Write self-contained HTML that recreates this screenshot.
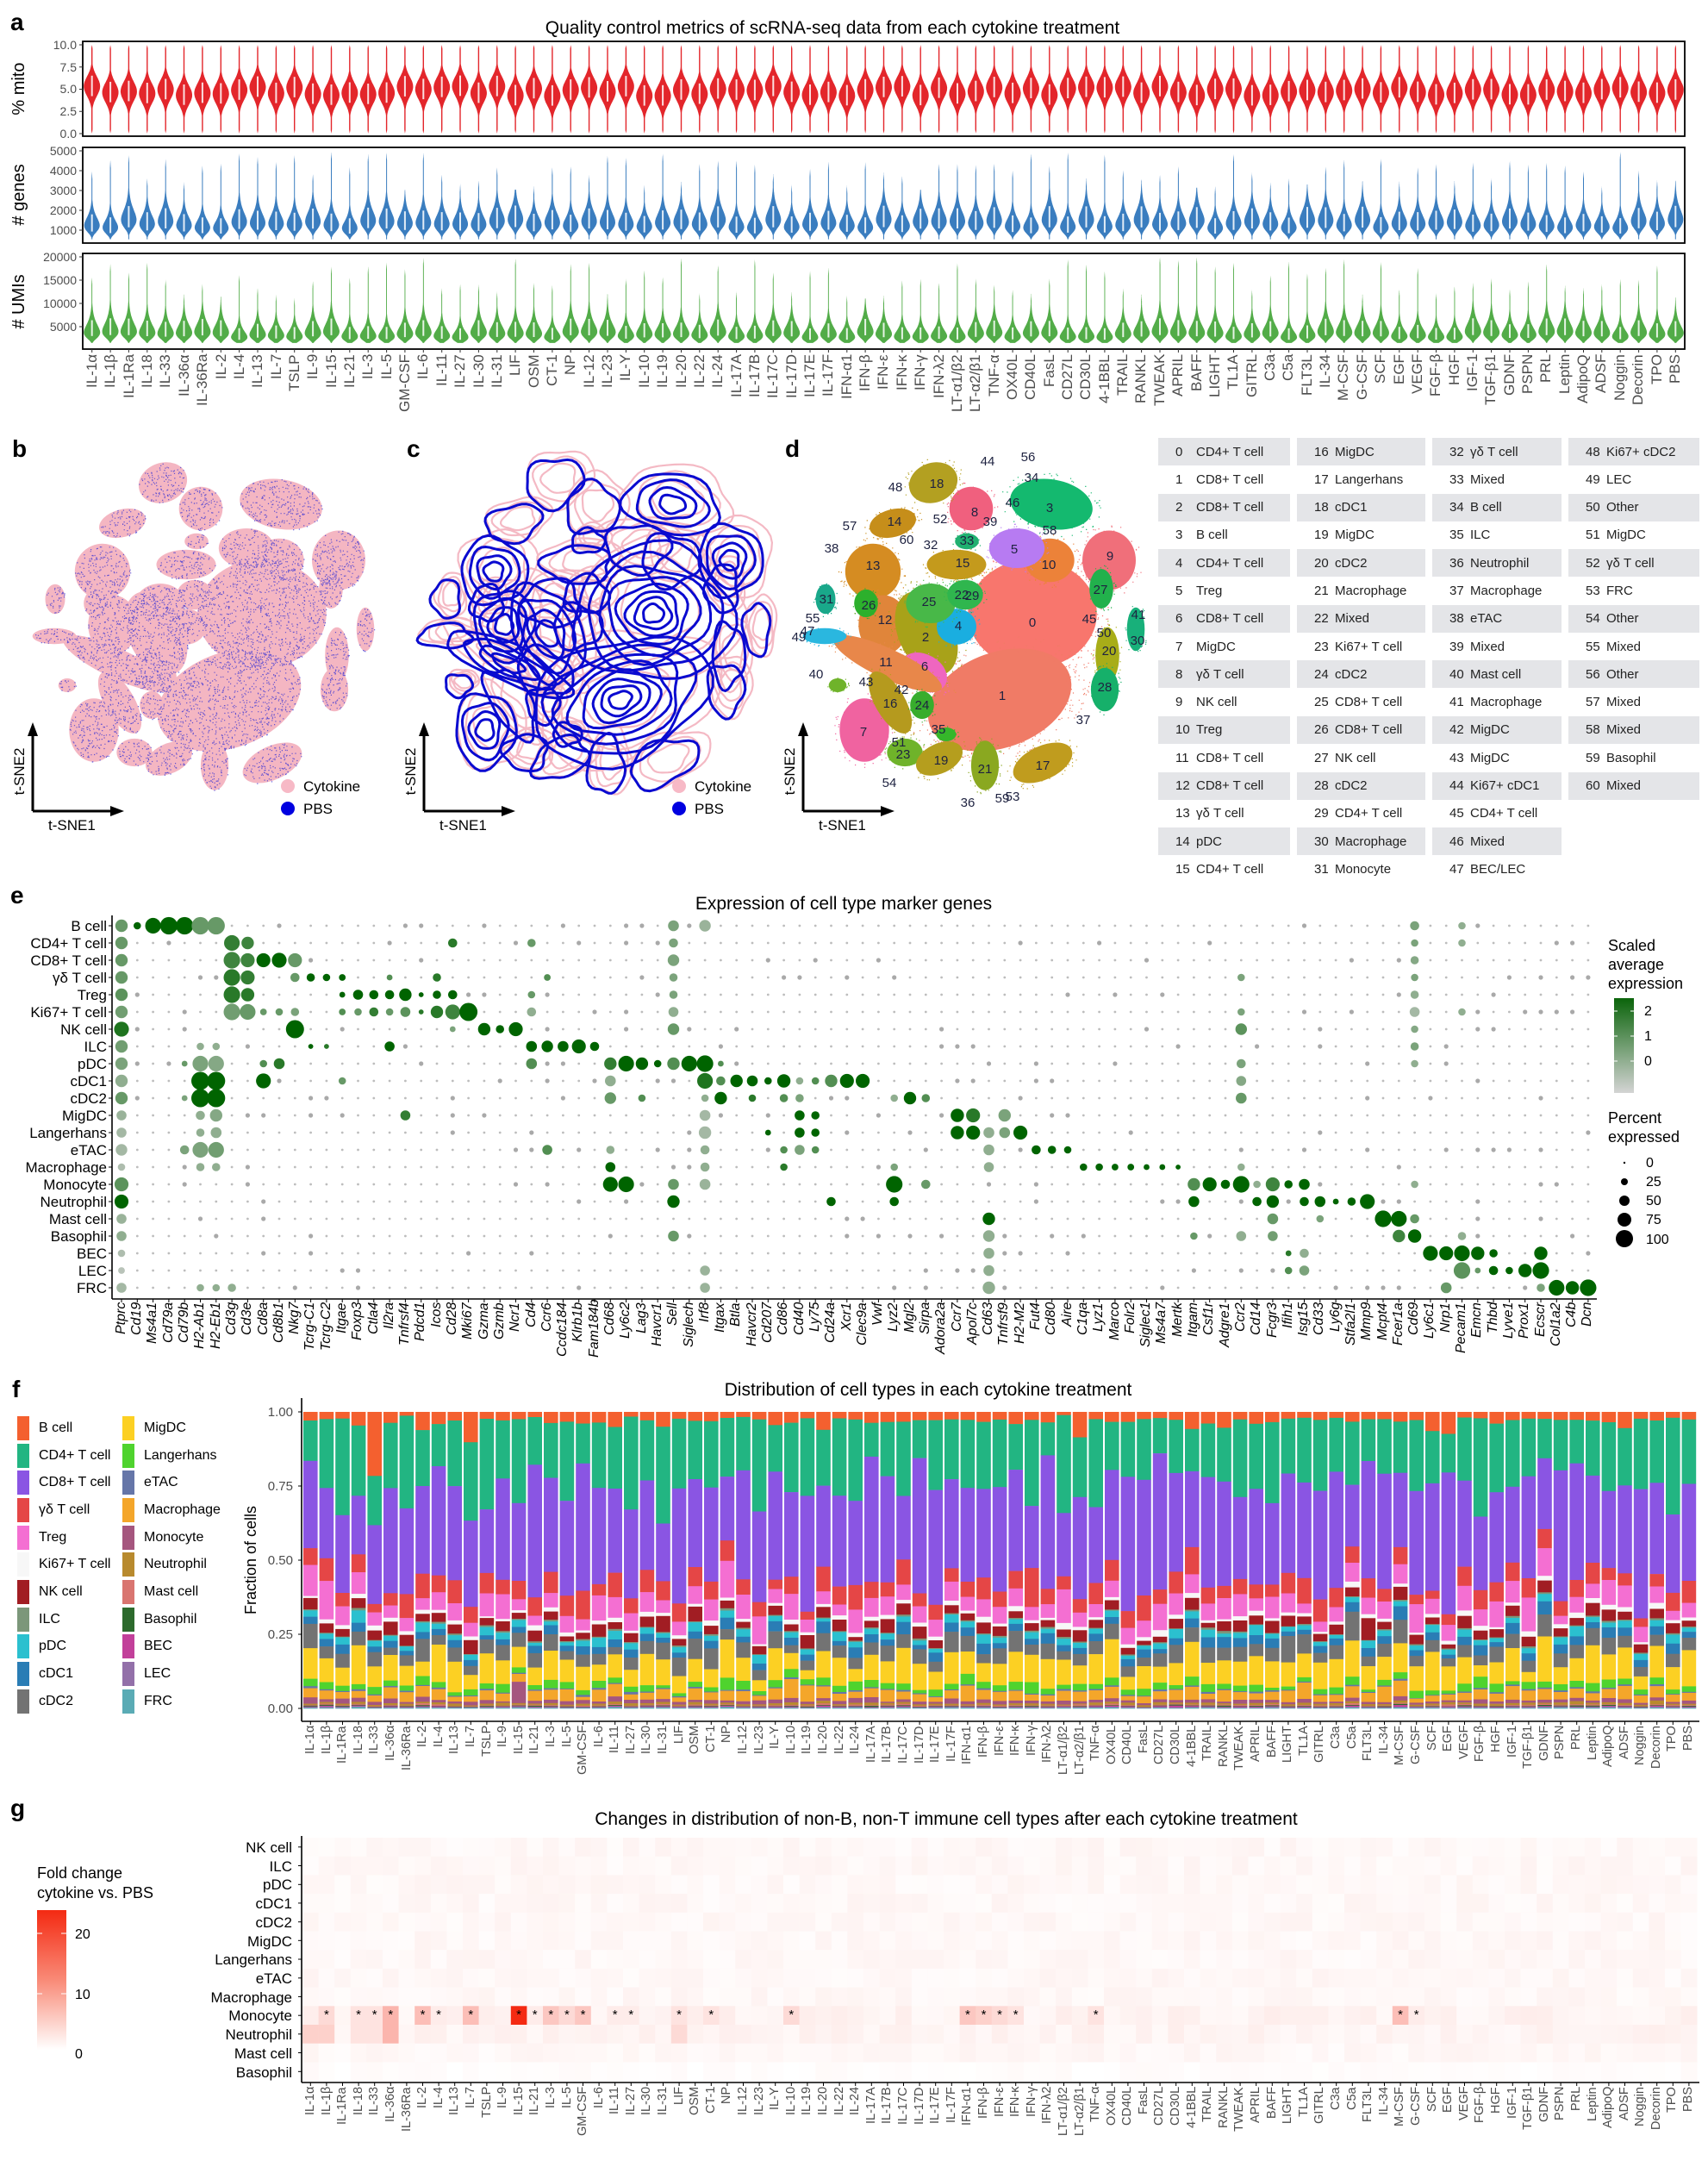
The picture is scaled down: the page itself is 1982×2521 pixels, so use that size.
<!DOCTYPE html>
<html><head><meta charset="utf-8">
<style>
body{margin:0;width:1982px;height:2521px;position:relative;background:#fff;overflow:hidden;font-family:"Liberation Sans","DejaVu Sans",sans-serif;color:#000}
svg{position:absolute;left:0;top:0}
.xl{position:absolute;display:flex;white-space:nowrap;color:#4d4d4d}
.xl span{flex:0 0 auto;writing-mode:vertical-rl;transform:rotate(180deg);text-align:end;overflow:visible}
.xa span{width:21.37px;line-height:21.37px;height:85px;font-size:17px}
.xf span{width:18.6px;line-height:18.6px;height:82px;font-size:14.5px}
.xe{color:#000}
.xe span{width:18.3px;line-height:18.3px;height:64px;font-size:16px;font-style:italic}
.tab{position:absolute;left:1344px;top:508px;display:grid;grid-template-columns:153px 149px 150px 152px;grid-template-rows:repeat(16,32.3px);grid-auto-flow:column;column-gap:8px;font-size:15px;color:#222}
.tab div{display:flex;align-items:center;height:32px}
.tab div:nth-child(odd){background:#e4e5e8}
.tab b{font-weight:normal;width:24px;padding-left:20px;flex:0 0 auto}
.leg{position:absolute;left:20px;top:1641px;display:grid;grid-template-columns:122px 130px;grid-template-rows:repeat(11,31.7px);grid-auto-flow:column;font-size:16px}
.leg div{display:flex;align-items:center}
.leg i{display:inline-block;width:14px;height:28px;margin-right:11px}
.pl{position:absolute;font-weight:bold;font-size:28px}
</style></head><body>
<svg id="G" width="1982" height="2521" xmlns="http://www.w3.org/2000/svg" font-family="Liberation Sans, DejaVu Sans, sans-serif">
<g id="shapes"></g>
<g font-size="21" text-anchor="middle">
<text x="966" y="39">Quality control metrics of scRNA-seq data from each cytokine treatment</text>
<text x="979" y="1055">Expression of cell type marker genes</text>
<text x="1077" y="1619">Distribution of cell types in each cytokine treatment</text>
<text x="1098" y="2117">Changes in distribution of non-B, non-T immune cell types after each cytokine treatment</text>
</g>
<g font-size="14" fill="#4d4d4d" text-anchor="end">
<text x="89" y="57">10.0</text><text x="89" y="83">7.5</text><text x="89" y="108">5.0</text><text x="89" y="134">2.5</text><text x="89" y="160">0.0</text>
<text x="89" y="180">5000</text><text x="89" y="203">4000</text><text x="89" y="226">3000</text><text x="89" y="249">2000</text><text x="89" y="272">1000</text>
<text x="89" y="303">20000</text><text x="89" y="330">15000</text><text x="89" y="357">10000</text><text x="89" y="384">5000</text>
</g>
<g font-size="20" text-anchor="middle">
<text transform="translate(28,103) rotate(-90)">% mito</text>
<text transform="translate(28,226) rotate(-90)"># genes</text>
<text transform="translate(28,350) rotate(-90)"># UMIs</text>
<text transform="translate(297,1810) rotate(-90)" font-size="18">Fraction of cells</text>
</g>
<g font-size="15" fill="#4d4d4d" text-anchor="end">
<text x="340" y="1643">1.00</text><text x="340" y="1729">0.75</text><text x="340" y="1815">0.50</text><text x="340" y="1901">0.25</text><text x="340" y="1987">0.00</text>
</g>
<g font-size="17" text-anchor="end">
<text x="124" y="1080">B cell</text><text x="124" y="1100">CD4+ T cell</text><text x="124" y="1120">CD8+ T cell</text><text x="124" y="1140">γδ T cell</text><text x="124" y="1160">Treg</text><text x="124" y="1180">Ki67+ T cell</text><text x="124" y="1200">NK cell</text><text x="124" y="1220">ILC</text><text x="124" y="1240">pDC</text><text x="124" y="1260">cDC1</text><text x="124" y="1280">cDC2</text><text x="124" y="1300">MigDC</text><text x="124" y="1320">Langerhans</text><text x="124" y="1340">eTAC</text><text x="124" y="1360">Macrophage</text><text x="124" y="1380">Monocyte</text><text x="124" y="1400">Neutrophil</text><text x="124" y="1420">Mast cell</text><text x="124" y="1440">Basophil</text><text x="124" y="1460">BEC</text><text x="124" y="1480">LEC</text><text x="124" y="1500">FRC</text>
</g>
<g font-size="17" text-anchor="end">
<text x="339" y="2149">NK cell</text><text x="339" y="2171">ILC</text><text x="339" y="2192">pDC</text><text x="339" y="2214">cDC1</text><text x="339" y="2236">cDC2</text><text x="339" y="2258">MigDC</text><text x="339" y="2279">Langerhans</text><text x="339" y="2301">eTAC</text><text x="339" y="2323">Macrophage</text><text x="339" y="2344">Monocyte</text><text x="339" y="2366">Neutrophil</text><text x="339" y="2388">Mast cell</text><text x="339" y="2410">Basophil</text>
</g>
<g font-size="18">
<text x="1866" y="1103">Scaled</text><text x="1866" y="1125">average</text><text x="1866" y="1147">expression</text>
<text x="1866" y="1303">Percent</text><text x="1866" y="1325">expressed</text>
<text x="43" y="2179">Fold change</text><text x="43" y="2202">cytokine vs. PBS</text>
</g>
<g font-size="16">
<text x="1908" y="1178">2</text><text x="1908" y="1207">1</text><text x="1908" y="1236">0</text>
<text x="1910" y="1354">0</text><text x="1910" y="1376">25</text><text x="1910" y="1398">50</text><text x="1910" y="1420">75</text><text x="1910" y="1443">100</text>
<text x="87" y="2249">20</text><text x="87" y="2319">10</text><text x="87" y="2388">0</text>
</g>
<g font-size="17">
<text x="352" y="918">Cytokine</text><text x="352" y="944">PBS</text>
<text x="806" y="918">Cytokine</text><text x="806" y="944">PBS</text>
<text x="56" y="963">t-SNE1</text><text x="510" y="963">t-SNE1</text><text x="950" y="963">t-SNE1</text>
<text transform="translate(28,895) rotate(-90)" text-anchor="middle">t-SNE2</text>
<text transform="translate(482,895) rotate(-90)" text-anchor="middle">t-SNE2</text>
<text transform="translate(922,895) rotate(-90)" text-anchor="middle">t-SNE2</text>
</g>
<g id="dl" font-size="15" fill="#1e2240" text-anchor="middle" dominant-baseline="middle">
<text x="1198" y="723">0</text><text x="1163" y="808">1</text><text x="1074" y="740">2</text><text x="1218" y="590">3</text><text x="1112" y="727">4</text><text x="1177" y="638">5</text><text x="1073" y="774">6</text><text x="1002" y="850">7</text><text x="1131" y="595">8</text><text x="1288" y="646">9</text><text x="1217" y="656">10</text><text x="1028" y="769">11</text><text x="1027" y="720">12</text><text x="1013" y="657">13</text><text x="1038" y="606">14</text><text x="1117" y="654">15</text><text x="1033" y="817">16</text><text x="1210" y="889">17</text><text x="1087" y="562">18</text><text x="1092" y="883">19</text><text x="1287" y="756">20</text><text x="1143" y="893">21</text><text x="1116" y="691">22</text><text x="1048" y="876">23</text><text x="1070" y="819">24</text><text x="1078" y="699">25</text><text x="1008" y="703">26</text><text x="1277" y="685">27</text><text x="1282" y="798">28</text><text x="1128" y="692">29</text><text x="1320" y="744">30</text><text x="959" y="696">31</text><text x="1080" y="633">32</text><text x="1122" y="628">33</text><text x="1197" y="555">34</text><text x="1089" y="847">35</text><text x="1123" y="932">36</text><text x="1257" y="836">37</text><text x="965" y="637">38</text><text x="1149" y="606">39</text><text x="947" y="783">40</text><text x="1321" y="714">41</text><text x="1046" y="801">42</text><text x="1005" y="792">43</text><text x="1146" y="536">44</text><text x="1264" y="719">45</text><text x="1175" y="584">46</text><text x="937" y="733">47</text><text x="1039" y="566">48</text><text x="927" y="740">49</text><text x="1281" y="735">50</text><text x="1043" y="862">51</text><text x="1091" y="603">52</text><text x="1175" y="925">53</text><text x="1032" y="909">54</text><text x="943" y="718">55</text><text x="1193" y="531">56</text><text x="986" y="611">57</text><text x="1218" y="616">58</text><text x="1163" y="927">59</text><text x="1052" y="627">60</text>
</g>
<g id="stars" font-size="15" text-anchor="middle"></g>
</svg>

<div class="pl" style="left:12px;top:10px">a</div>
<div class="pl" style="left:14px;top:505px">b</div>
<div class="pl" style="left:472px;top:505px">c</div>
<div class="pl" style="left:911px;top:505px">d</div>
<div class="pl" style="left:12px;top:1023px">e</div>
<div class="pl" style="left:14px;top:1596px">f</div>
<div class="pl" style="left:12px;top:2082px">g</div>

<div class="xl xa" style="left:96px;top:411px"><span>IL-1α</span><span>IL-1β</span><span>IL-1Ra</span><span>IL-18</span><span>IL-33</span><span>IL-36α</span><span>IL-36Ra</span><span>IL-2</span><span>IL-4</span><span>IL-13</span><span>IL-7</span><span>TSLP</span><span>IL-9</span><span>IL-15</span><span>IL-21</span><span>IL-3</span><span>IL-5</span><span>GM-CSF</span><span>IL-6</span><span>IL-11</span><span>IL-27</span><span>IL-30</span><span>IL-31</span><span>LIF</span><span>OSM</span><span>CT-1</span><span>NP</span><span>IL-12</span><span>IL-23</span><span>IL-Y</span><span>IL-10</span><span>IL-19</span><span>IL-20</span><span>IL-22</span><span>IL-24</span><span>IL-17A</span><span>IL-17B</span><span>IL-17C</span><span>IL-17D</span><span>IL-17E</span><span>IL-17F</span><span>IFN-α1</span><span>IFN-β</span><span>IFN-ε</span><span>IFN-κ</span><span>IFN-γ</span><span>IFN-λ2</span><span>LT-α1/β2</span><span>LT-α2/β1</span><span>TNF-α</span><span>OX40L</span><span>CD40L</span><span>FasL</span><span>CD27L</span><span>CD30L</span><span>4-1BBL</span><span>TRAIL</span><span>RANKL</span><span>TWEAK</span><span>APRIL</span><span>BAFF</span><span>LIGHT</span><span>TL1A</span><span>GITRL</span><span>C3a</span><span>C5a</span><span>FLT3L</span><span>IL-34</span><span>M-CSF</span><span>G-CSF</span><span>SCF</span><span>EGF</span><span>VEGF</span><span>FGF-β</span><span>HGF</span><span>IGF-1</span><span>TGF-β1</span><span>GDNF</span><span>PSPN</span><span>PRL</span><span>Leptin</span><span>AdipoQ</span><span>ADSF</span><span>Noggin</span><span>Decorin</span><span>TPO</span><span>PBS</span></div>

<div class="xl xf" style="left:351px;top:2002px"><span>IL-1α</span><span>IL-1β</span><span>IL-1Ra</span><span>IL-18</span><span>IL-33</span><span>IL-36α</span><span>IL-36Ra</span><span>IL-2</span><span>IL-4</span><span>IL-13</span><span>IL-7</span><span>TSLP</span><span>IL-9</span><span>IL-15</span><span>IL-21</span><span>IL-3</span><span>IL-5</span><span>GM-CSF</span><span>IL-6</span><span>IL-11</span><span>IL-27</span><span>IL-30</span><span>IL-31</span><span>LIF</span><span>OSM</span><span>CT-1</span><span>NP</span><span>IL-12</span><span>IL-23</span><span>IL-Y</span><span>IL-10</span><span>IL-19</span><span>IL-20</span><span>IL-22</span><span>IL-24</span><span>IL-17A</span><span>IL-17B</span><span>IL-17C</span><span>IL-17D</span><span>IL-17E</span><span>IL-17F</span><span>IFN-α1</span><span>IFN-β</span><span>IFN-ε</span><span>IFN-κ</span><span>IFN-γ</span><span>IFN-λ2</span><span>LT-α1/β2</span><span>LT-α2/β1</span><span>TNF-α</span><span>OX40L</span><span>CD40L</span><span>FasL</span><span>CD27L</span><span>CD30L</span><span>4-1BBL</span><span>TRAIL</span><span>RANKL</span><span>TWEAK</span><span>APRIL</span><span>BAFF</span><span>LIGHT</span><span>TL1A</span><span>GITRL</span><span>C3a</span><span>C5a</span><span>FLT3L</span><span>IL-34</span><span>M-CSF</span><span>G-CSF</span><span>SCF</span><span>EGF</span><span>VEGF</span><span>FGF-β</span><span>HGF</span><span>IGF-1</span><span>TGF-β1</span><span>GDNF</span><span>PSPN</span><span>PRL</span><span>Leptin</span><span>AdipoQ</span><span>ADSF</span><span>Noggin</span><span>Decorin</span><span>TPO</span><span>PBS</span></div>

<div class="xl xf" style="left:351px;top:2421px"><span>IL-1α</span><span>IL-1β</span><span>IL-1Ra</span><span>IL-18</span><span>IL-33</span><span>IL-36α</span><span>IL-36Ra</span><span>IL-2</span><span>IL-4</span><span>IL-13</span><span>IL-7</span><span>TSLP</span><span>IL-9</span><span>IL-15</span><span>IL-21</span><span>IL-3</span><span>IL-5</span><span>GM-CSF</span><span>IL-6</span><span>IL-11</span><span>IL-27</span><span>IL-30</span><span>IL-31</span><span>LIF</span><span>OSM</span><span>CT-1</span><span>NP</span><span>IL-12</span><span>IL-23</span><span>IL-Y</span><span>IL-10</span><span>IL-19</span><span>IL-20</span><span>IL-22</span><span>IL-24</span><span>IL-17A</span><span>IL-17B</span><span>IL-17C</span><span>IL-17D</span><span>IL-17E</span><span>IL-17F</span><span>IFN-α1</span><span>IFN-β</span><span>IFN-ε</span><span>IFN-κ</span><span>IFN-γ</span><span>IFN-λ2</span><span>LT-α1/β2</span><span>LT-α2/β1</span><span>TNF-α</span><span>OX40L</span><span>CD40L</span><span>FasL</span><span>CD27L</span><span>CD30L</span><span>4-1BBL</span><span>TRAIL</span><span>RANKL</span><span>TWEAK</span><span>APRIL</span><span>BAFF</span><span>LIGHT</span><span>TL1A</span><span>GITRL</span><span>C3a</span><span>C5a</span><span>FLT3L</span><span>IL-34</span><span>M-CSF</span><span>G-CSF</span><span>SCF</span><span>EGF</span><span>VEGF</span><span>FGF-β</span><span>HGF</span><span>IGF-1</span><span>TGF-β1</span><span>GDNF</span><span>PSPN</span><span>PRL</span><span>Leptin</span><span>AdipoQ</span><span>ADSF</span><span>Noggin</span><span>Decorin</span><span>TPO</span><span>PBS</span></div>

<div class="xl xe" style="left:131.85px;top:1511px"><span>Ptprc</span><span>Cd19</span><span>Ms4a1</span><span>Cd79a</span><span>Cd79b</span><span>H2-Ab1</span><span>H2-Eb1</span><span>Cd3g</span><span>Cd3e</span><span>Cd8a</span><span>Cd8b1</span><span>Nkg7</span><span>Tcrg-C1</span><span>Tcrg-C2</span><span>Itgae</span><span>Foxp3</span><span>Ctla4</span><span>Il2ra</span><span>Tnfrsf4</span><span>Pdcd1</span><span>Icos</span><span>Cd28</span><span>Mki67</span><span>Gzma</span><span>Gzmb</span><span>Ncr1</span><span>Cd4</span><span>Ccr6</span><span>Ccdc184</span><span>Klrb1b</span><span>Fam184b</span><span>Cd68</span><span>Ly6c2</span><span>Lag3</span><span>Havcr1</span><span>Sell</span><span>Siglech</span><span>Irf8</span><span>Itgax</span><span>Btla</span><span>Havcr2</span><span>Cd207</span><span>Cd86</span><span>Cd40</span><span>Ly75</span><span>Cd24a</span><span>Xcr1</span><span>Clec9a</span><span>Vwf</span><span>Lyz2</span><span>Mgl2</span><span>Sirpa</span><span>Adora2a</span><span>Ccr7</span><span>Apol7c</span><span>Cd63</span><span>Tnfrsf9</span><span>H2-M2</span><span>Fut4</span><span>Cd80</span><span>Aire</span><span>C1qa</span><span>Lyz1</span><span>Marco</span><span>Folr2</span><span>Siglec1</span><span>Ms4a7</span><span>Mertk</span><span>Itgam</span><span>Csf1r</span><span>Adgre1</span><span>Ccr2</span><span>Cd14</span><span>Fcgr3</span><span>Ifih1</span><span>Isg15</span><span>Cd33</span><span>Ly6g</span><span>Stfa2l1</span><span>Mmp9</span><span>Mcpt4</span><span>Fcer1a</span><span>Cd69</span><span>Ly6c1</span><span>Nrp1</span><span>Pecam1</span><span>Emcn</span><span>Thbd</span><span>Lyve1</span><span>Prox1</span><span>Ecscr</span><span>Col1a2</span><span>C4b</span><span>Dcn</span></div>

<div class="tab">
<div><b>0</b>CD4+ T cell</div><div><b>1</b>CD8+ T cell</div><div><b>2</b>CD8+ T cell</div><div><b>3</b>B cell</div><div><b>4</b>CD4+ T cell</div><div><b>5</b>Treg</div><div><b>6</b>CD8+ T cell</div><div><b>7</b>MigDC</div><div><b>8</b>γδ T cell</div><div><b>9</b>NK cell</div><div><b>10</b>Treg</div><div><b>11</b>CD8+ T cell</div><div><b>12</b>CD8+ T cell</div><div><b>13</b>γδ T cell</div><div><b>14</b>pDC</div><div><b>15</b>CD4+ T cell</div>
<div><b>16</b>MigDC</div><div><b>17</b>Langerhans</div><div><b>18</b>cDC1</div><div><b>19</b>MigDC</div><div><b>20</b>cDC2</div><div><b>21</b>Macrophage</div><div><b>22</b>Mixed</div><div><b>23</b>Ki67+ T cell</div><div><b>24</b>cDC2</div><div><b>25</b>CD8+ T cell</div><div><b>26</b>CD8+ T cell</div><div><b>27</b>NK cell</div><div><b>28</b>cDC2</div><div><b>29</b>CD4+ T cell</div><div><b>30</b>Macrophage</div><div><b>31</b>Monocyte</div>
<div><b>32</b>γδ T cell</div><div><b>33</b>Mixed</div><div><b>34</b>B cell</div><div><b>35</b>ILC</div><div><b>36</b>Neutrophil</div><div><b>37</b>Macrophage</div><div><b>38</b>eTAC</div><div><b>39</b>Mixed</div><div><b>40</b>Mast cell</div><div><b>41</b>Macrophage</div><div><b>42</b>MigDC</div><div><b>43</b>MigDC</div><div><b>44</b>Ki67+ cDC1</div><div><b>45</b>CD4+ T cell</div><div><b>46</b>Mixed</div><div><b>47</b>BEC/LEC</div>
<div><b>48</b>Ki67+ cDC2</div><div><b>49</b>LEC</div><div><b>50</b>Other</div><div><b>51</b>MigDC</div><div><b>52</b>γδ T cell</div><div><b>53</b>FRC</div><div><b>54</b>Other</div><div><b>55</b>Mixed</div><div><b>56</b>Other</div><div><b>57</b>Mixed</div><div><b>58</b>Mixed</div><div><b>59</b>Basophil</div><div><b>60</b>Mixed</div>
</div>

<div class="leg">
<div><i style="background:#f4602f"></i>B cell</div><div><i style="background:#22b582"></i>CD4+ T cell</div><div><i style="background:#8a55e3"></i>CD8+ T cell</div><div><i style="background:#e54646"></i>γδ T cell</div><div><i style="background:#f46fd2"></i>Treg</div><div><i style="background:#f7f7f7"></i>Ki67+ T cell</div><div><i style="background:#a11d23"></i>NK cell</div><div><i style="background:#7c977a"></i>ILC</div><div><i style="background:#2bc0cf"></i>pDC</div><div><i style="background:#2a7db5"></i>cDC1</div><div><i style="background:#737373"></i>cDC2</div>
<div><i style="background:#fcd023"></i>MigDC</div><div><i style="background:#4fd32e"></i>Langerhans</div><div><i style="background:#6676a8"></i>eTAC</div><div><i style="background:#f4a62a"></i>Macrophage</div><div><i style="background:#a5567e"></i>Monocyte</div><div><i style="background:#b88a2e"></i>Neutrophil</div><div><i style="background:#d97570"></i>Mast cell</div><div><i style="background:#2d6a2d"></i>Basophil</div><div><i style="background:#c2409a"></i>BEC</div><div><i style="background:#9370a9"></i>LEC</div><div><i style="background:#5aabb5"></i>FRC</div>
</div>

<script>
(function(){
var seed=12345;function rnd(){seed|=0;seed=seed+0x6D2B79F5|0;var t=Math.imul(seed^seed>>>15,1|seed);t=t+Math.imul(t^t>>>7,61|t)^t;return((t^t>>>14)>>>0)/4294967296;}
function gauss(){var u=rnd()||1e-9,v=rnd();return Math.sqrt(-2*Math.log(u))*Math.cos(2*Math.PI*v);}
var o=[];function A(s){o.push(s);}
function f1(n){return n.toFixed(1);}
var X0=96,CW=(1955-96)/87;
function violin(cx,vmin,vmax,toY,wf,col){var L=[],R=[],n=90;for(var k=0;k<=n;k++){var v=vmin+(vmax-vmin)*k/n;var w=wf(v);var y=toY(v);L.push(f1(cx-w)+','+f1(y));R.unshift(f1(cx+w)+','+f1(y));}
A('<path d="M'+L.join('L')+'L'+R.join('L')+'Z" fill="'+col+'"/>');}
var pan=[[48,158],[171,282],[294,405]];
pan.forEach(function(p){A('<rect x="96" y="'+p[0]+'" width="1859" height="'+(p[1]-p[0])+'" fill="none" stroke="#000" stroke-width="1.8"/>');});
function ty1(v){return 155-v*10.3;}function ty2(v){return 267-(v-1000)*0.023;}function ty3(v){return 379-(v-5000)*0.0054;}
[0,2.5,5,7.5,10].forEach(function(v){A('<line x1="92" x2="96" y1="'+ty1(v)+'" y2="'+ty1(v)+'" stroke="#333"/>');});
[1000,2000,3000,4000,5000].forEach(function(v){A('<line x1="92" x2="96" y1="'+ty2(v)+'" y2="'+ty2(v)+'" stroke="#333"/>');});
[5000,10000,15000,20000].forEach(function(v){A('<line x1="92" x2="96" y1="'+ty3(v)+'" y2="'+ty3(v)+'" stroke="#333"/>');});
for(var i=0;i<87;i++){var cx=X0+CW*(i+0.5);
 A('<line x1="'+f1(cx)+'" x2="'+f1(cx)+'" y1="405" y2="409" stroke="#333"/>');
 var mu=4.8+(rnd()-0.5)*1.1,sd=1.1;
 violin(cx,0.05,9.95,ty1,function(v){var t=Math.min(1,v/0.4,(10-v)/0.4);return Math.max(9.5*Math.exp(-(v-mu)*(v-mu)/(2*sd*sd)),0.7*t);},'#e3262b');
 A('<rect x="'+f1(cx-1)+'" y="'+f1(ty1(mu+1.2))+'" width="2" height="'+f1(2.3*10.3)+'" fill="#fff" opacity=".85"/>');
 var m2=1100+rnd()*450,top2=3000+rnd()*2000;
 violin(cx,540,top2,ty2,function(v){var l=Math.log(v/m2);return Math.max(9*Math.exp(-l*l/(2*0.3*0.3)),0.5*Math.min(1,(top2-v)/400));},'#3a7dbf');
 A('<rect x="'+f1(cx-1)+'" y="'+f1(ty2(m2*1.45))+'" width="2" height="'+f1((m2*0.7)*0.023)+'" fill="#fff" opacity=".85"/>');
 var m3=2700+rnd()*1300,top3=11000+rnd()*9000;
 violin(cx,1500,top3,ty3,function(v){var l=Math.log(v/m3);return Math.max(9.5*Math.exp(-l*l/(2*0.4*0.4)),0.45*Math.min(1,(top3-v)/1500));},'#52ac48');
 A('<rect x="'+f1(cx-1)+'" y="'+f1(ty3(m3*1.7))+'" width="2" height="'+f1(m3*0.9*0.0054)+'" fill="#fff" opacity=".85"/>');
}
var isl=[[1198,712,65,55,0,'#f8766d'],[1160,812,75,48,-20,'#f07b66'],[1218,650,25,22,0,'#ec8239'],[1180,636,28,20,0,'#b77bf2'],[1287,650,27,30,0,'#f06f7a'],[1278,683,12,20,0,'#22b14c'],[1220,585,42,25,10,'#14b96f'],[1127,590,22,22,0,'#f0607e'],[1083,560,25,20,-20,'#b3a021'],[1036,607,24,14,-15,'#c68e1a'],[1013,663,28,28,0,'#d58c22'],[1025,725,25,30,0,'#e0853a'],[1005,700,12,14,0,'#2cb02c'],[1075,735,28,45,-25,'#a8a219'],[1110,727,20,18,0,'#1aaee0'],[1072,780,25,18,30,'#ef66c0'],[1030,770,60,15,25,'#e8874a'],[1110,655,30,15,0,'#c49a1c'],[1080,700,25,20,0,'#48b848'],[1120,690,18,15,0,'#2fb64e'],[1003,847,25,32,0,'#f063a0'],[1033,815,15,35,-30,'#b59a1e'],[1070,818,12,14,0,'#38ad2d'],[1050,873,18,14,0,'#6fb32a'],[1090,880,25,15,-25,'#b59e1e'],[1143,888,14,25,0,'#8aa820'],[1210,885,32,17,-25,'#c09c1e'],[1285,760,12,28,0,'#a8ad18'],[1282,800,14,22,0,'#16b06a'],[1318,730,9,22,0,'#18b07a'],[958,695,10,15,0,'#19a88a'],[957,738,22,8,0,'#2ab7df'],[1122,628,12,8,0,'#20b070'],[1098,852,10,7,0,'#35b72a'],[972,795,9,7,0,'#6fb32a']];
isl.forEach(function(c){c[2]*=1.15;c[3]*=1.15;});
function ell(c,dx,fill){return '<ellipse cx="'+(c[0]+dx)+'" cy="'+c[1]+'" rx="'+f1(c[2])+'" ry="'+f1(c[3])+'" transform="rotate('+c[4]+' '+(c[0]+dx)+' '+c[1]+')" '+fill+'/>';}
function inEll(c,dx){var a=rnd()*6.283,r=Math.sqrt(rnd());var x=Math.cos(a)*r*c[2],y=Math.sin(a)*r*c[3];var t=c[4]*Math.PI/180;return [c[0]+dx+x*Math.cos(t)-y*Math.sin(t),c[1]+x*Math.sin(t)+y*Math.cos(t)];}
isl.forEach(function(c){A(ell(c,-894,'fill="#f4b6c2"'));});
var bd='';isl.forEach(function(c){var n=Math.round(c[2]*c[3]*0.2);for(var k=0;k<n;k++){var p=inEll(c,-894);bd+='M'+f1(p[0])+' '+f1(p[1])+'h1.2v1.2h-1.2z';}});
A('<path d="'+bd+'" fill="#2626d6" opacity=".7"/>');
isl.forEach(function(c){A(ell(c,0,'fill="'+c[5]+'"'));var s='';for(var k=0;k<Math.round(c[2]*c[3]*0.05)+10;k++){var a=rnd()*6.283,r=0.9+rnd()*0.35;var x=Math.cos(a)*r*c[2],y=Math.sin(a)*r*c[3];var t=c[4]*Math.PI/180;s+='M'+f1(c[0]+x*Math.cos(t)-y*Math.sin(t))+' '+f1(c[1]+x*Math.sin(t)+y*Math.cos(t))+'h1.2v1.2h-1.2z';}A('<path d="'+s+'" fill="'+c[5]+'"/>');});
function blob(cx,cy,rx,ry,rot,amp,ph){var s='';for(var k=0;k<=40;k++){var a=k/40*6.283;var r=1+amp*Math.sin(3*a+ph)+amp*0.6*Math.cos(5*a+ph*2);var x=Math.cos(a)*rx*r,y=Math.sin(a)*ry*r;var t=rot*Math.PI/180;s+=(k?'L':'M')+f1(cx+x*Math.cos(t)-y*Math.sin(t))+','+f1(cy+x*Math.sin(t)+y*Math.cos(t));}return s+'Z';}
var pk='',bl='';
isl.forEach(function(c,ix){var cx=c[0]-440,cy=c[1];var big=c[2]*c[3]>900;
 [1.25,0.9,0.55].forEach(function(s,j){pk+=blob(cx+6,cy-5,c[2]*s+4,c[3]*s+4,c[4],0.08,ix+j);});
 if(big){var sc=ix<2?[1.2,1.0,0.82,0.66,0.5,0.36,0.24,0.12]:[1.1,0.8,0.5,0.25];sc.forEach(function(s,j){bl+=blob(cx,cy,c[2]*s+3,c[3]*s+3,c[4],0.07,ix*2+j);});}
 else bl+=blob(cx,cy,c[2]+5,c[3]+5,c[4],0.1,ix);});
A('<path d="'+pk+'" fill="none" stroke="#f4b9c4" stroke-width="2.2"/>');
A('<path d="'+bl+'" fill="none" stroke="#0a0ad0" stroke-width="3"/>');
[38,492,932].forEach(function(ox){A('<line x1="'+ox+'" y1="941" x2="'+ox+'" y2="852" stroke="#000" stroke-width="3"/><polygon points="'+(ox-6)+',854 '+(ox+6)+',854 '+ox+',838" fill="#000"/><line x1="'+ox+'" y1="941" x2="'+(ox+92)+'" y2="941" stroke="#000" stroke-width="3"/><polygon points="'+(ox+90)+',935 '+(ox+90)+',947 '+(ox+106)+',941" fill="#000"/>');});
[334,788].forEach(function(x){A('<circle cx="'+x+'" cy="912" r="8" fill="#f7b9c6"/><circle cx="'+x+'" cy="938" r="8" fill="#0000e0"/>');});
A('<line x1="130" y1="1062" x2="130" y2="1507" stroke="#000" stroke-width="1.6"/><line x1="130" y1="1507" x2="1853" y2="1507" stroke="#000" stroke-width="1.6"/>');
for(var r=0;r<22;r++)A('<line x1="126" x2="130" y1="'+(1074+r*20)+'" y2="'+(1074+r*20)+'" stroke="#000"/>');
for(var c=0;c<94;c++)A('<line y1="1507" y2="1511" x1="'+f1(141+c*18.3)+'" x2="'+f1(141+c*18.3)+'" stroke="#000"/>');
var ex=[[0,1,.3,1],[0,2,.8,1],[0,3,.9,1],[0,4,.9,1],[0,5,.9,.5],[0,6,.9,.5],[1,7,.8,.75],[1,8,.6,.7],[1,21,.4,.8],[1,26,.35,.5],[2,7,.85,.7],[2,8,.7,.7],[2,9,.7,1],[2,10,.75,1],[2,11,.7,.5],[3,7,.85,.8],[3,8,.7,.75],[3,11,.4,.5],[3,12,.35,1],[3,13,.3,1],[3,14,.25,1],[3,17,.2,.6],[3,20,.35,.8],[3,27,.25,.6],[4,7,.85,.8],[4,8,.65,.8],[4,14,.2,1],[4,15,.45,1],[4,16,.4,1],[4,17,.4,1],[4,18,.6,1],[4,19,.15,1],[4,20,.35,1],[4,21,.4,1],[4,26,.3,.5],[5,7,.85,.45],[5,8,.8,.5],[5,9,.25,.5],[5,10,.3,.5],[5,11,.35,.4],[5,14,.25,.6],[5,15,.3,.5],[5,16,.4,.75],[5,17,.3,.5],[5,18,.45,.55],[5,19,.15,.8],[5,20,.6,.8],[5,21,.75,.7],[5,22,.95,1],[5,26,.4,.3],[6,11,.95,1],[6,23,.6,1],[6,24,.35,1],[6,25,.7,1],[6,21,.2,.4],[7,17,.45,1],[7,12,.15,1],[7,13,.15,.8],[7,26,.5,1],[7,27,.55,1],[7,28,.5,1],[7,29,.7,1],[7,30,.4,1],[7,5,.3,.3],[7,6,.3,.3],[8,5,.8,.4],[8,6,.8,.35],[8,9,.3,.6],[8,10,.5,.8],[8,26,.5,.6],[8,31,.6,.75],[8,32,.8,1],[8,33,.6,1],[8,34,.3,1],[8,35,.6,.6],[8,36,.8,1],[8,37,.85,1],[8,38,.2,.6],[8,4,.2,.5],[9,5,.95,1],[9,6,.95,1],[9,9,.75,1],[9,31,.5,.3],[9,37,.8,.85],[9,38,.4,.6],[9,39,.6,1],[9,40,.5,1],[9,41,.3,1],[9,42,.65,1],[9,43,.3,.3],[9,44,.3,.6],[9,45,.6,.6],[9,46,.7,1],[9,47,.7,1],[9,14,.3,.5],[10,5,.95,1],[10,6,.95,1],[10,31,.55,.5],[10,33,.3,.6],[10,37,.3,.3],[10,38,.6,1],[10,40,.3,.8],[10,42,.35,.6],[10,43,.35,.4],[10,49,.3,.3],[10,50,.6,1],[10,51,.35,.6],[10,4,.2,.4],[11,5,.4,.3],[11,6,.6,.35],[11,18,.45,.75],[11,37,.5,.2],[11,43,.45,1],[11,44,.35,1],[11,53,.65,1],[11,54,.7,.8],[11,56,.6,.4],[12,5,.35,.3],[12,6,.5,.3],[12,37,.6,.2],[12,41,.2,1],[12,43,.45,1],[12,44,.35,1],[12,53,.65,1],[12,54,.7,1],[12,55,.5,.3],[12,56,.5,.4],[12,57,.7,1],[13,4,.4,.4],[13,5,.8,.4],[13,6,.8,.45],[13,27,.45,.6],[13,31,.35,.3],[13,37,.4,.3],[13,42,.3,.6],[13,43,.45,.4],[13,44,.3,.6],[13,55,.5,.3],[13,58,.4,1],[13,59,.35,1],[13,60,.3,1],[14,5,.35,.3],[14,6,.35,.3],[14,31,.45,1],[14,37,.4,.3],[14,42,.3,.8],[14,49,.3,.4],[14,55,.45,.3],[14,61,.3,1],[14,62,.3,1],[14,63,.25,1],[14,64,.25,1],[14,65,.2,1],[14,66,.2,1],[14,67,.15,1],[14,71,.3,.3],[15,31,.75,1],[15,32,.8,1],[15,35,.5,.5],[15,37,.5,.25],[15,49,.85,1],[15,51,.4,.5],[15,68,.6,.6],[15,69,.7,1],[15,70,.4,1],[15,71,.85,1],[15,72,.3,.3],[15,73,.7,.7],[15,74,.35,1],[15,75,.5,1],[15,82,.3,.3],[16,35,.6,1],[16,45,.4,1],[16,49,.4,1],[16,68,.5,1],[16,72,.4,1],[16,73,.6,1],[16,75,.4,1],[16,76,.5,1],[16,77,.2,1],[16,78,.35,1],[16,79,.75,1],[17,55,.6,1],[17,73,.5,.5],[17,76,.3,.4],[17,80,.85,1],[17,81,.8,1],[17,82,.4,.5],[18,35,.5,.5],[18,55,.55,.3],[18,68,.3,.5],[18,71,.45,.3],[18,73,.45,.45],[18,81,.6,.7],[18,82,.65,1],[18,85,.35,.3],[19,55,.5,.3],[19,74,.2,.8],[19,75,.4,.3],[19,83,.75,1],[19,84,.7,1],[19,85,.8,1],[19,86,.65,1],[19,87,.35,1],[19,90,.65,1],[20,37,.45,.25],[20,55,.5,.3],[20,74,.3,.6],[20,75,.45,.4],[20,85,.85,.55],[20,86,.2,.5],[20,87,.4,1],[20,88,.3,1],[20,89,.65,1],[20,90,.85,1],[21,5,.3,.3],[21,6,.3,.3],[21,7,.35,.3],[21,37,.45,.25],[21,55,.6,.3],[21,84,.5,.5],[21,90,.35,.4],[21,91,.8,1],[21,92,.65,1],[21,93,.85,1],[0,82,.4,.4],[1,82,.3,.4],[2,82,.35,.35],[3,82,.3,.4],[4,82,.35,.3],[5,82,.45,.2],[6,82,.3,.35],[7,82,.35,.4],[8,82,.3,.3],[0,85,.3,.3],[1,85,.3,.3],[5,85,.3,.3],[0,35,.5,.4],[1,35,.4,.4],[2,35,.55,.4],[3,35,.35,.4],[4,35,.35,.4],[5,35,.45,.3],[6,35,.55,.5],[0,37,.55,.25],[3,71,.3,.4],[5,71,.3,.4],[6,71,.55,.55],[8,71,.4,.4],[9,71,.45,.35],[10,71,.5,.5]];
var pt=[[.6,.5],[.6,.5],[.6,.5],[.6,.5],[.6,.55],[.6,.45],[.75,.85],[.6,.45],[.6,.4],[.6,.3],[.6,.5],[.45,.25],[.45,.2],[.55,.2],[.3,.15],[.7,.55],[.7,1],[.45,.25],[.45,.3],[.3,.15],[.25,.1],[.45,.2]];
var map={};ex.forEach(function(e){map[e[0]+'_'+e[1]]=[e[2],e[3]];});pt.forEach(function(p,r){map[r+'_0']=p;});
function gcol(e){var a=Math.round(205*(1-e)),g=Math.round(205-105*e);return 'rgb('+a+','+g+','+a+')';}
for(var r=0;r<22;r++)for(var c=0;c<94;c++){var m=map[r+'_'+c];var x=141+c*18.3,y=1074+r*20;
 if(m)A('<circle cx="'+f1(x)+'" cy="'+y+'" r="'+f1(1.5+m[0]*9.5)+'" fill="'+gcol(m[1])+'"/>');
 else{var q=rnd();A('<circle cx="'+f1(x)+'" cy="'+y+'" r="'+(q<0.12?2.6:1.4)+'" fill="'+(q<0.12?'#a9a9a9':'#bdbdbd')+'"/>');}}
A('<defs><linearGradient id="eg" x1="0" y1="0" x2="0" y2="1"><stop offset="0" stop-color="#0b640b"/><stop offset="1" stop-color="#d4d4d4"/></linearGradient><linearGradient id="gg" x1="0" y1="0" x2="0" y2="1"><stop offset="0" stop-color="#f42a12"/><stop offset=".5" stop-color="#f98a77"/><stop offset="1" stop-color="#ffffff"/></linearGradient></defs>');
A('<rect x="1873" y="1158" width="23" height="110" fill="url(#eg)"/>');
[1173,1202,1231].forEach(function(y){A('<line x1="1873" x2="1877" y1="'+y+'" y2="'+y+'" stroke="#fff"/><line x1="1892" x2="1896" y1="'+y+'" y2="'+y+'" stroke="#fff"/>');});
[[1349,1.2],[1371,4],[1393,6],[1415,8],[1437,10]].forEach(function(p){A('<circle cx="1885" cy="'+p[0]+'" r="'+p[1]+'" fill="#000"/>');});
A('<line x1="350" y1="1622" x2="350" y2="1997" stroke="#000" stroke-width="1.6"/><line x1="350" y1="1997" x2="1972" y2="1997" stroke="#000" stroke-width="1.6"/>');
[1638,1724,1810,1896,1982].forEach(function(y){A('<line x1="346" x2="350" y1="'+y+'" y2="'+y+'" stroke="#000"/>');});
var fc=['#f4602f','#22b582','#8a55e3','#e54646','#f46fd2','#f7f7f7','#a11d23','#7c977a','#2bc0cf','#2a7db5','#737373','#fcd023','#4fd32e','#6676a8','#f4a62a','#a5567e','#b88a2e','#d97570','#2d6a2d','#c2409a','#9370a9','#5aabb5'];
var base=[0.03,0.22,0.34,0.06,0.06,0.012,0.03,0.004,0.02,0.025,0.045,0.08,0.02,0.004,0.03,0.01,0.006,0.003,0.002,0.002,0.002,0.002];
for(var i=0;i<87;i++){var x=351+i*18.6;A('<line x1="'+f1(x+9.3)+'" x2="'+f1(x+9.3)+'" y1="1997" y2="2001" stroke="#000"/>');
 var fr=base.map(function(b){return b*Math.exp(0.3*gauss());});
 if(i==4){fr[0]=0.26;fr[1]=0.2;fr[2]=0.32;}if(i==10)fr[0]=0.13;if(i==70)fr[0]=0.07;if(i==71)fr[0]=0.1;if(i==13)fr[15]=0.08;
 var s=fr.reduce(function(a,b){return a+b;},0);var y=1638;
 fr.forEach(function(v,k){var h=v/s*344;A('<rect x="'+f1(x+1)+'" y="'+f1(y)+'" width="16.6" height="'+f1(h+0.3)+'" fill="'+fc[k]+'"/>');y+=h;});}
A('<line x1="350" y1="2130" x2="350" y2="2416" stroke="#000" stroke-width="1.6"/><line x1="350" y1="2416" x2="1972" y2="2416" stroke="#000" stroke-width="1.6"/>');
for(var r=0;r<13;r++)A('<line x1="346" x2="350" y1="'+f1(2142.85+21.7*r)+'" y2="'+f1(2142.85+21.7*r)+'" stroke="#000"/>');
var mono={1:4,3:3,4:3,5:8,7:7,8:2,10:7,13:23,14:2,15:6,16:4,17:6,19:2,20:2,23:3,25:3,30:4,41:6,42:5,43:4,44:3,49:3,68:7,69:2};
var neut={0:5,1:5,3:3,4:3,5:8,23:4};
function hcol(v){var t=Math.min(1,Math.max(0,v/23));return 'rgb('+Math.round(255-11*t)+','+Math.round(255-213*t)+','+Math.round(255-237*t)+')';}
for(var i=0;i<87;i++){var x=351+i*18.6;A('<line x1="'+f1(x+9.3)+'" x2="'+f1(x+9.3)+'" y1="2416" y2="2420" stroke="#000"/>');
 for(var r=0;r<13;r++){var v=0.3+rnd()*1.0;if(r==9)v=mono[i]!==undefined?mono[i]:0.6+rnd()*1.4;if(r==10)v=neut[i]!==undefined?neut[i]:0.6+rnd()*1.3;if(r==12)v=rnd()*0.6;
  A('<rect x="'+f1(x)+'" y="'+f1(2132+21.7*r)+'" width="18.9" height="22" fill="'+hcol(v)+'"/>');}}
A('<rect x="43" y="2216" width="34" height="162" fill="url(#gg)"/>');
[2243,2313].forEach(function(y){A('<line x1="43" x2="49" y1="'+y+'" y2="'+y+'" stroke="#fff"/><line x1="71" x2="77" y1="'+y+'" y2="'+y+'" stroke="#fff"/>');});
document.getElementById('shapes').innerHTML=o.join('');
var st='';Object.keys(mono).forEach(function(k){st+='<text x="'+f1(351+k*18.6+9.3)+'" y="2342">*</text>';});
document.getElementById('stars').innerHTML=st;
})();
</script>
</body></html>
